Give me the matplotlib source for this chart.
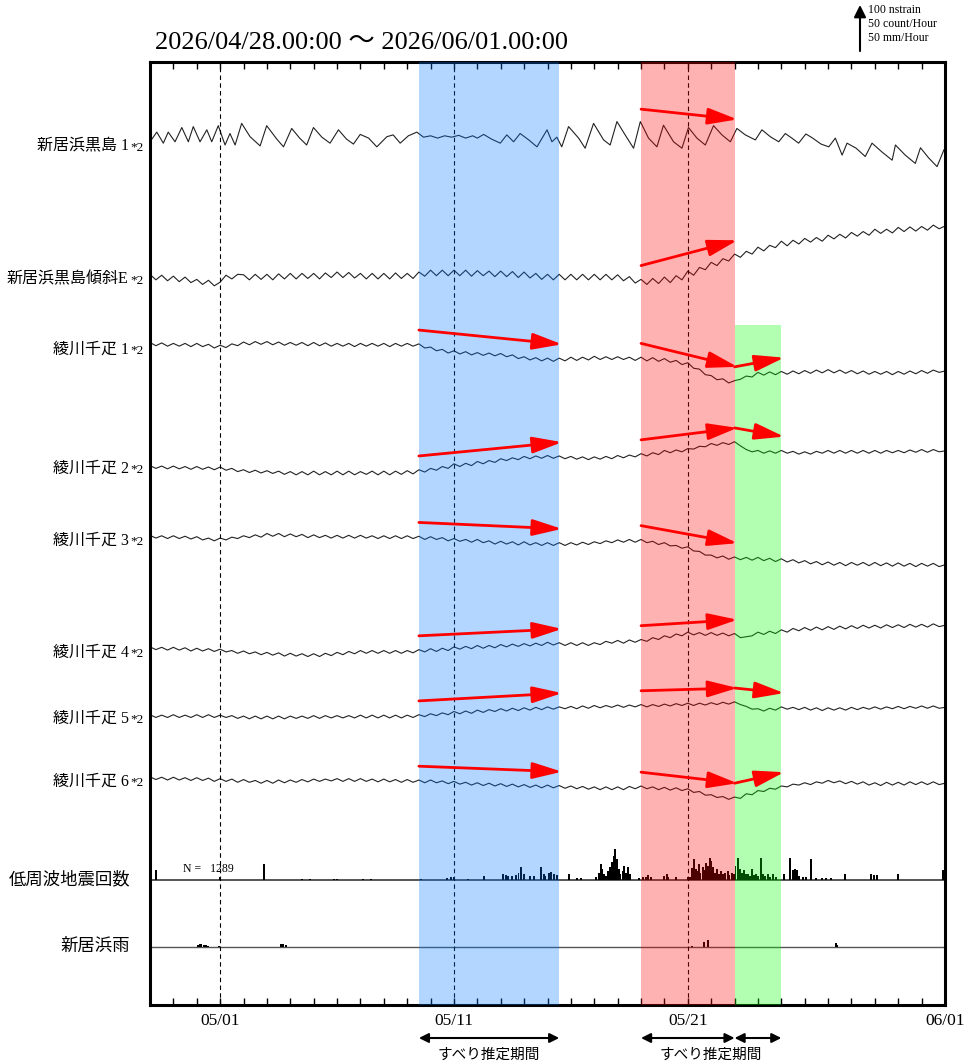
import numpy as np
import matplotlib
matplotlib.use("Agg")
import matplotlib.pyplot as plt
import matplotlib.transforms as mtransforms

# ---- data -------------------------------------------------------------
# time axis: days since 2026/04/28 00:00
N_DAYS = 34
TICK_DAYS = [3, 13, 23, 34]
TICK_LABELS = ["05/01", "05/11", "05/21", "06/01"]
DASHED_DAYS = [3, 13, 23]

# slip estimation periods (days)
BLUE_PERIOD = (11.5, 17.5)
RED_PERIOD = (21.0, 25.0)
GREEN_PERIOD = (25.0, 27.0)

STATION_LABELS = ["新居浜黒島 1", "新居浜黒島傾斜E", "綾川千疋 1", "綾川千疋 2",
                  "綾川千疋 3", "綾川千疋 4", "綾川千疋 5", "綾川千疋 6"]

# 新居浜黒島1 (nstrain), sampled at tidal peaks / troughs
KUROSHIMA1_T = [0.0, 0.29, 0.57, 0.78, 1.07, 1.36, 1.64, 1.85, 2.14, 2.43, 2.64, 2.92,
                3.21, 3.42, 3.64, 3.92, 4.28, 4.71, 4.99, 5.42, 5.71, 6.06, 6.40, 6.70,
                6.99, 7.35, 7.70, 8.06, 8.40, 8.70, 8.99, 9.35, 9.70, 10.13, 10.40, 10.70,
                11.05, 11.41, 11.7, 12.0, 12.3, 12.6, 12.9, 13.2, 13.5, 13.8, 14.0, 14.27,
                14.6, 14.98, 15.26, 15.55, 15.83, 16.2, 16.55, 16.98, 17.19, 17.40, 17.61,
                17.90, 18.33, 18.61, 18.97, 19.40, 19.68, 19.97, 20.32, 20.68, 20.97, 21.32,
                21.68, 21.96, 22.39, 22.75, 23.03, 23.39, 23.75, 24.10, 24.46, 24.82, 25.10,
                25.46, 25.89, 26.17, 26.53, 26.89, 27.17, 27.45, 27.74, 28.05, 28.31, 28.7,
                29.03, 29.31, 29.60, 29.81, 30.2, 30.59, 30.88, 31.3, 31.74, 31.88, 32.3,
                32.73, 32.95, 33.3, 33.66, 33.95, 34.0]
KUROSHIMA1_V = [7, 28, 4, 28, 7, 38, 7, 40, 7, 33, 7, 42,
                0, 25, 0, 47, 18, -2, 42, 13, -4, 36, 15, 0,
                38, 17, 4, 33, 13, 2, 23, 15, -4, 18, 22, 4,
                20, 28, 17, 20, 15, 20, 17, 21, 15, 20, 15, 23,
                13, 4, 22, 7, 25, 11, -4, 33, 7, 17, -4,
                40, 15, -7, 47, 11, 0, 51, 22, -7, 51, 15,
                -4, 43, 7, -7, 38, 15, 0, 42, 22, 7, 36,
                22, 11, 33, 18, 7, 25, 15, 4, 24, 16, 2,
                -4, 15, -22, 4, -7, -25, 4, -15, -33, 0, -22,
                -40, -6, -28, -47, -11, -7]

# remaining strain / tilt channels (nstrain), every 6 hours, one row per day
TILT_E = [8, -4, 6, -6, 4, -8, 2, -10, -3, -14, -5, -17, -9, 6, -2, 8,
          7, -4, 8, -3, 8, -4, 9, -2, 10, -2, 10, -1, 10, -2, 11, 1,
          13, 1, 12, 0, 10, -2, 10, -2, 10, -2, 11, -1, 10, -1, 13, 4,
          17, 5, 17, 5, 17, 5, 17, 4, 16, 5, 15, 3, 15, 3, 14, 1,
          13, 0, 10, -3, 8, -4, 8, -4, 8, -4, 8, -4, 8, -4, 8, -4,
          7, -6, 3, -11, -3, -14, -1, -12, 2, -10, 5, -4, 15, 6, 23, 18,
          34, 27, 42, 37, 52, 45, 58, 52, 67, 59, 71, 66, 80, 70, 82, 74,
          86, 78, 88, 80, 93, 85, 95, 87, 99, 91, 101, 93, 106, 97, 106, 98,
          110, 101, 111, 102, 112, 104, 115, 107, 113]
AYAGAWA1 = [12, 5, 11, 4, 10, 4, 10, 3, 10, 3, 8, 0, 6, 1, 9, 5,
            13, 7, 14, 8, 14, 7, 13, 6, 12, 6, 12, 5, 12, 5, 11, 4,
            10, 4, 10, 3, 10, 4, 10, 4, 10, 3, 10, 4, 10, 4, 9, 0,
            2, -6, -3, -11, -6, -13, -8, -15, -10, -16, -11, -17, -12, -19, -15, -23,
            -19, -26, -21, -28, -22, -29, -22, -28, -20, -27, -20, -26, -18, -25, -19, -25,
            -19, -25, -20, -27, -20, -28, -21, -29, -23, -31, -27, -36, -32, -44, -46, -58,
            -60, -69, -67, -76, -71, -68, -61, -63, -53, -59, -52, -58, -51, -57, -50, -56,
            -49, -55, -48, -54, -47, -54, -48, -55, -49, -56, -50, -57, -51, -57, -51, -58,
            -51, -57, -50, -56, -49, -55, -48, -53, -50]
AYAGAWA2 = [3, -3, 2, -4, 2, -4, 1, -5, 1, -5, 0, -6, 0, -7, -3, -10,
            -6, -12, -7, -13, -8, -14, -9, -16, -10, -17, -10, -17, -9, -17, -10, -17,
            -9, -17, -9, -17, -10, -16, -9, -17, -9, -17, -9, -16, -8, -15, -6, -11,
            -3, -7, 1, -3, 7, 1, 8, 3, 12, 7, 14, 10, 18, 14, 20, 16,
            23, 18, 24, 19, 25, 19, 24, 18, 23, 17, 22, 16, 22, 17, 23, 18,
            25, 20, 26, 22, 29, 24, 31, 27, 36, 31, 37, 33, 40, 39, 45, 44,
            51, 47, 53, 49, 55, 46, 38, 33, 36, 30, 35, 30, 36, 30, 34, 28,
            33, 28, 34, 30, 36, 30, 36, 30, 36, 30, 36, 30, 36, 30, 36, 31,
            36, 31, 37, 32, 38, 32, 38, 33, 35]
AYAGAWA3 = [8, 2, 7, 1, 7, 1, 6, 0, 5, -2, 2, -4, 2, -2, 4, 1,
            7, 3, 9, 4, 12, 6, 12, 5, 11, 5, 10, 3, 9, 3, 8, 2,
            8, 2, 8, 2, 8, 2, 7, 1, 7, 1, 7, 1, 7, 1, 6, -1,
            5, -1, 3, -4, 1, -5, -1, -7, -1, -8, -4, -11, -5, -11, -6, -13,
            -6, -13, -8, -14, -8, -14, -8, -14, -8, -13, -7, -12, -6, -10, -4, -8,
            -2, -7, -1, -7, -1, -8, -5, -12, -8, -15, -14, -20, -17, -26, -27, -35,
            -35, -41, -37, -44, -39, -45, -40, -46, -40, -47, -42, -49, -43, -50, -45, -52,
            -47, -54, -49, -56, -50, -57, -51, -58, -51, -57, -51, -58, -51, -58, -52, -59,
            -52, -59, -53, -60, -53, -59, -53, -60, -56]
AYAGAWA4 = [9, 3, 8, 2, 8, 2, 7, 0, 6, 0, 5, -1, 4, -2, 1, -5,
            0, -6, -2, -8, -3, -9, -4, -11, -5, -11, -6, -12, -6, -12, -5, -10,
            -3, -8, -1, -6, 1, -5, 1, -5, 1, -5, 1, -5, 1, -4, 3, -2,
            5, -1, 6, 1, 9, 4, 10, 5, 12, 6, 12, 7, 14, 9, 15, 10,
            16, 11, 17, 12, 19, 13, 18, 12, 18, 12, 18, 12, 18, 14, 21, 17,
            23, 17, 24, 19, 25, 21, 29, 25, 33, 29, 37, 33, 41, 35, 40, 34,
            40, 34, 39, 33, 38, 29, 31, 33, 41, 36, 43, 38, 46, 41, 49, 44,
            51, 45, 52, 46, 53, 47, 54, 48, 55, 49, 56, 50, 56, 50, 57, 51,
            57, 51, 58, 52, 58, 52, 59, 53, 56]
AYAGAWA5 = [5, -1, 4, -1, 5, -1, 4, -1, 5, -1, 5, -1, 4, -1, 3, -3,
            2, -4, 2, -4, 2, -4, 2, -4, 2, -3, 2, -3, 3, -3, 3, -2,
            3, -2, 3, -2, 4, -2, 4, -2, 4, -2, 4, -2, 4, -1, 5, 1,
            7, 3, 9, 5, 12, 7, 13, 8, 15, 10, 16, 12, 18, 13, 19, 14,
            20, 15, 21, 16, 22, 17, 22, 18, 23, 18, 24, 19, 25, 20, 25, 21,
            26, 21, 26, 22, 27, 22, 27, 23, 28, 24, 29, 25, 30, 25, 30, 26,
            31, 27, 32, 28, 33, 27, 23, 17, 18, 13, 19, 15, 22, 17, 21, 16,
            21, 15, 20, 14, 20, 15, 20, 15, 21, 16, 21, 17, 22, 17, 22, 18,
            23, 18, 23, 19, 24, 19, 24, 19, 21]
AYAGAWA6 = [7, 1, 6, 0, 6, 0, 5, -1, 5, -1, 4, -3, 3, -3, 2, -5,
            1, -5, -1, -7, -1, -7, 0, -6, 0, -5, 1, -4, 2, -3, 2, -2,
            3, -3, 3, -3, 3, -3, 2, -4, 2, -4, 1, -5, 1, -5, 0, -6,
            0, -6, -2, -8, -3, -9, -5, -11, -6, -12, -7, -13, -8, -14, -9, -15,
            -10, -16, -11, -17, -11, -17, -12, -18, -13, -19, -14, -20, -15, -21, -15, -21,
            -15, -21, -14, -19, -13, -19, -15, -21, -16, -22, -17, -23, -19, -27, -25, -33,
            -32, -38, -36, -42, -37, -40, -30, -32, -23, -25, -18, -20, -13, -15, -9, -11,
            -6, -10, -4, -7, -1, -6, -2, -8, -3, -9, -4, -11, -6, -12, -5, -11,
            -5, -11, -4, -10, -4, -10, -4, -10, -7]

# low-frequency earthquakes (count / hour)
LFE_DAY = [0.26, 2.98, 4.89, 6.52, 6.85, 7.89, 8.00, 9.13, 9.46, 11.57, 12.72, 12.87,
           12.98, 13.59, 14.30, 15.11, 15.22, 15.33, 15.48, 15.65, 15.76, 15.87, 15.98,
           16.26, 16.41, 16.74, 16.85, 16.91, 17.07, 17.17, 17.28, 17.39, 17.93, 18.26,
           18.43, 19.09, 19.20, 19.28, 19.35, 19.41, 19.50, 19.57, 19.67, 19.74, 19.83,
           19.89, 19.96, 20.04, 20.11, 20.22, 20.28, 20.37, 20.43, 20.52, 20.91, 21.09,
           21.20, 21.30, 21.41, 22.00, 22.11, 22.17, 22.50, 23.00, 23.09, 23.17, 23.26,
           23.33, 23.41, 23.48, 23.54, 23.63, 23.70, 23.78, 23.87, 23.93, 24.00, 24.09,
           24.17, 24.26, 24.35, 24.43, 24.52, 24.61, 24.70, 24.78, 24.89, 24.96, 25.04,
           25.13, 25.22, 25.30, 25.39, 25.48, 25.57, 25.65, 25.74, 25.83, 25.91, 26.00,
           26.11, 26.20, 26.30, 26.41, 26.52, 26.65, 26.78, 27.13, 27.35, 27.50, 27.57,
           27.65, 27.74, 27.93, 28.04, 28.26, 28.48, 28.74, 28.91, 29.13, 29.74, 30.83,
           30.96, 31.09, 32.00, 33.91]
LFE_COUNT = [11, 3, 17, 1, 1, 1, 1, 1, 1, 1, 2, 3,
             3, 1, 4, 7, 5, 4, 4, 5, 8, 14, 6,
             4, 4, 14, 6, 4, 8, 9, 7, 5, 6, 2,
             2, 3, 8, 17, 12, 7, 4, 10, 14, 20, 26,
             34, 23, 12, 6, 10, 15, 8, 14, 6, 2, 3,
             3, 5, 3, 4, 6, 3, 3, 3, 3, 13, 23,
             12, 10, 17, 8, 14, 11, 19, 15, 24, 21, 14,
             8, 12, 7, 10, 6, 8, 10, 5, 8, 6, 15,
             24, 12, 8, 11, 6, 7, 4, 12, 5, 7, 4,
             24, 6, 4, 6, 3, 7, 3, 6, 24, 11, 12,
             11, 4, 3, 3, 23, 2, 2, 2, 2, 6, 6,
             5, 5, 6, 11]
LFE_TOTAL = 1289

# 新居浜 rain (mm / hour)
RAIN_DAY = [2.07, 2.15, 2.20, 2.30, 2.40, 2.50, 2.93, 5.60, 5.70, 5.80, 23.20, 23.70,
            23.87, 29.35, 29.40]
RAIN_MM = [2, 3, 3, 2, 2, 1, 1, 3, 3, 2, 1, 5, 8, 4, 2]

# ---- layout -------------------------------------------------------------
PX_PER_UNIT = 0.46          # 100 nstrain = 46 px
AX_H_PX = 943
ROW_PX = [145, 278, 348, 467, 539, 651, 717, 780]
LFE_ROW_PX, RAIN_ROW_PX = 880, 947
AX_BOTTOM_PX = 1005
COUNT_SCALE = 2.0           # 50 count/h -> 100 units
RAIN_SCALE = 2.0            # 50 mm/h -> 100 units


def row_y(px):
    return (AX_BOTTOM_PX - px) / PX_PER_UNIT


SERIF_JP = ["Liberation Serif", "Noto Sans CJK JP"]
plt.rcParams["font.family"] = SERIF_JP

fig = plt.figure(figsize=(9.8, 10.62), dpi=100)
ax = fig.add_axes([150 / 980, 1 - 1005 / 1062, 795 / 980, 943 / 1062])
ax.set_xlim(0, N_DAYS)
ax.set_ylim(0, AX_H_PX / PX_PER_UNIT)

t6h = np.arange(0, N_DAYS + 0.01, 0.25)
series = [(np.array(KUROSHIMA1_T), np.array(KUROSHIMA1_V))]
for vals in [TILT_E, AYAGAWA1, AYAGAWA2, AYAGAWA3, AYAGAWA4, AYAGAWA5, AYAGAWA6]:
    series.append((t6h, np.array(vals, dtype=float)))

rows = [row_y(p) for p in ROW_PX]
for (t, v), base in zip(series, rows):
    ax.plot(t, base + v, color="#222222", lw=0.8, zorder=2)

# station labels
lab_tr = mtransforms.blended_transform_factory(ax.transAxes, ax.transData)
for lab, base in zip(STATION_LABELS, rows):
    ax.text(-0.027, base - 12, lab, transform=lab_tr, ha="right", va="baseline",
            fontsize=11.5, family=SERIF_JP)
    ax.text(-0.008, base - 12, "*2", transform=lab_tr, ha="right", va="baseline",
            fontsize=9.5, family=SERIF_JP)

# LFE and rain histograms
lfe_base, rain_base = row_y(LFE_ROW_PX), row_y(RAIN_ROW_PX)
ax.axhline(lfe_base, color="#555555", lw=1.4, zorder=1)
ax.axhline(rain_base, color="#555555", lw=1.0, zorder=1)
ax.bar(LFE_DAY, np.array(LFE_COUNT) * COUNT_SCALE, width=0.085, bottom=lfe_base,
       color="black", zorder=2)
ax.bar(RAIN_DAY, np.array(RAIN_MM) * RAIN_SCALE, width=0.085, bottom=rain_base,
       color="black", zorder=2)
ax.text(1.4, lfe_base + 24, f"N =   {LFE_TOTAL}", fontsize=8.5, va="center", ha="left")
ax.text(-0.025, lfe_base, "低周波地震回数", transform=lab_tr, ha="right", va="center",
        fontsize=12.5)
ax.text(-0.025, rain_base, "新居浜雨", transform=lab_tr, ha="right", va="center",
        fontsize=12.5)

# dashed day markers
for d in DASHED_DAYS:
    ax.axvline(d, color="black", lw=0.8, ls=(0, (4, 3)), zorder=2)

# shaded slip periods (drawn over the data, tinting it)
ax.axvspan(*BLUE_PERIOD, color=(0.0, 0.48, 1.0), alpha=0.3, lw=0, zorder=3)
ax.axvspan(*RED_PERIOD, color=(1.0, 0.0, 0.0), alpha=0.3, lw=0, zorder=3)
green_top = (row_y(325)) / (AX_H_PX / PX_PER_UNIT)
ax.axvspan(*GREEN_PERIOD, ymax=green_top, color=(0.0, 1.0, 0.0), alpha=0.3, lw=0, zorder=3)

# red trend arrows
ARROW_LIFT = 30
arrow_sets = [(BLUE_PERIOD, [2, 3, 4, 5, 6, 7]),
              (RED_PERIOD, [0, 1, 2, 3, 4, 5, 6, 7]),
              (GREEN_PERIOD, [2, 3, 6, 7])]
for (a, b), idxs in arrow_sets:
    for i in idxs:
        t, v = series[i]
        y0 = rows[i] + np.interp(a, t, v) + ARROW_LIFT
        y1 = rows[i] + np.interp(b, t, v) + ARROW_LIFT
        ax.annotate("", xy=(b + 0.12, y1), xytext=(a, y0),
                    arrowprops=dict(arrowstyle="-|>,head_length=0.9,head_width=0.25",
                                    color="red", lw=2, mutation_scale=20,
                                    shrinkA=0, shrinkB=0),
                    zorder=5)

# axis styling
ax.set_yticks([])
ax.set_xticks(TICK_DAYS)
ax.set_xticklabels(TICK_LABELS, fontsize=12.5)
ax.set_xticks(np.arange(0, N_DAYS + 1), minor=True)
ax.tick_params(which="both", direction="in", top=True, bottom=True, left=False,
               length=5, width=1, pad=6)
for s in ax.spines.values():
    s.set_linewidth(2.2)

# period arrows below the axis
bot_tr = mtransforms.blended_transform_factory(ax.transData, ax.transAxes)
for a, b in [BLUE_PERIOD, RED_PERIOD, GREEN_PERIOD]:
    ax.annotate("", xy=(b, -0.035), xytext=(a, -0.035), xycoords=bot_tr,
                arrowprops=dict(arrowstyle="<|-|>", color="black", lw=1.5,
                                mutation_scale=14, shrinkA=0, shrinkB=0),
                annotation_clip=False)
ax.text(sum(BLUE_PERIOD) / 2, -0.053, "すべり推定期間", transform=bot_tr, ha="center",
        va="center", fontsize=10.5, family="Noto Sans CJK JP")
ax.text((RED_PERIOD[0] + GREEN_PERIOD[1]) / 2, -0.053, "すべり推定期間", transform=bot_tr,
        ha="center", va="center", fontsize=10.5, family="Noto Sans CJK JP")

# title and scale
fig.text(155 / 980, 1 - 43 / 1062, "2026/04/28.00:00 〜 2026/06/01.00:00",
         ha="left", va="center", fontsize=19)
sc_y0 = row_y(51)
ax.annotate("", xy=(860 / 980, sc_y0 + 100), xytext=(860 / 980, sc_y0),
            xycoords=("figure fraction", "data"),
            arrowprops=dict(arrowstyle="-|>,head_length=0.6,head_width=0.3",
                            color="black", lw=1.5, mutation_scale=12,
                            shrinkA=0, shrinkB=0),
            annotation_clip=False)
for k, s in enumerate(["100 nstrain", "50 count/Hour", "50 mm/Hour"]):
    fig.text(868 / 980, 1 - (10 + 14 * k) / 1062, s, ha="left", va="center", fontsize=8.5)

fig.savefig("out.png", dpi=100)
